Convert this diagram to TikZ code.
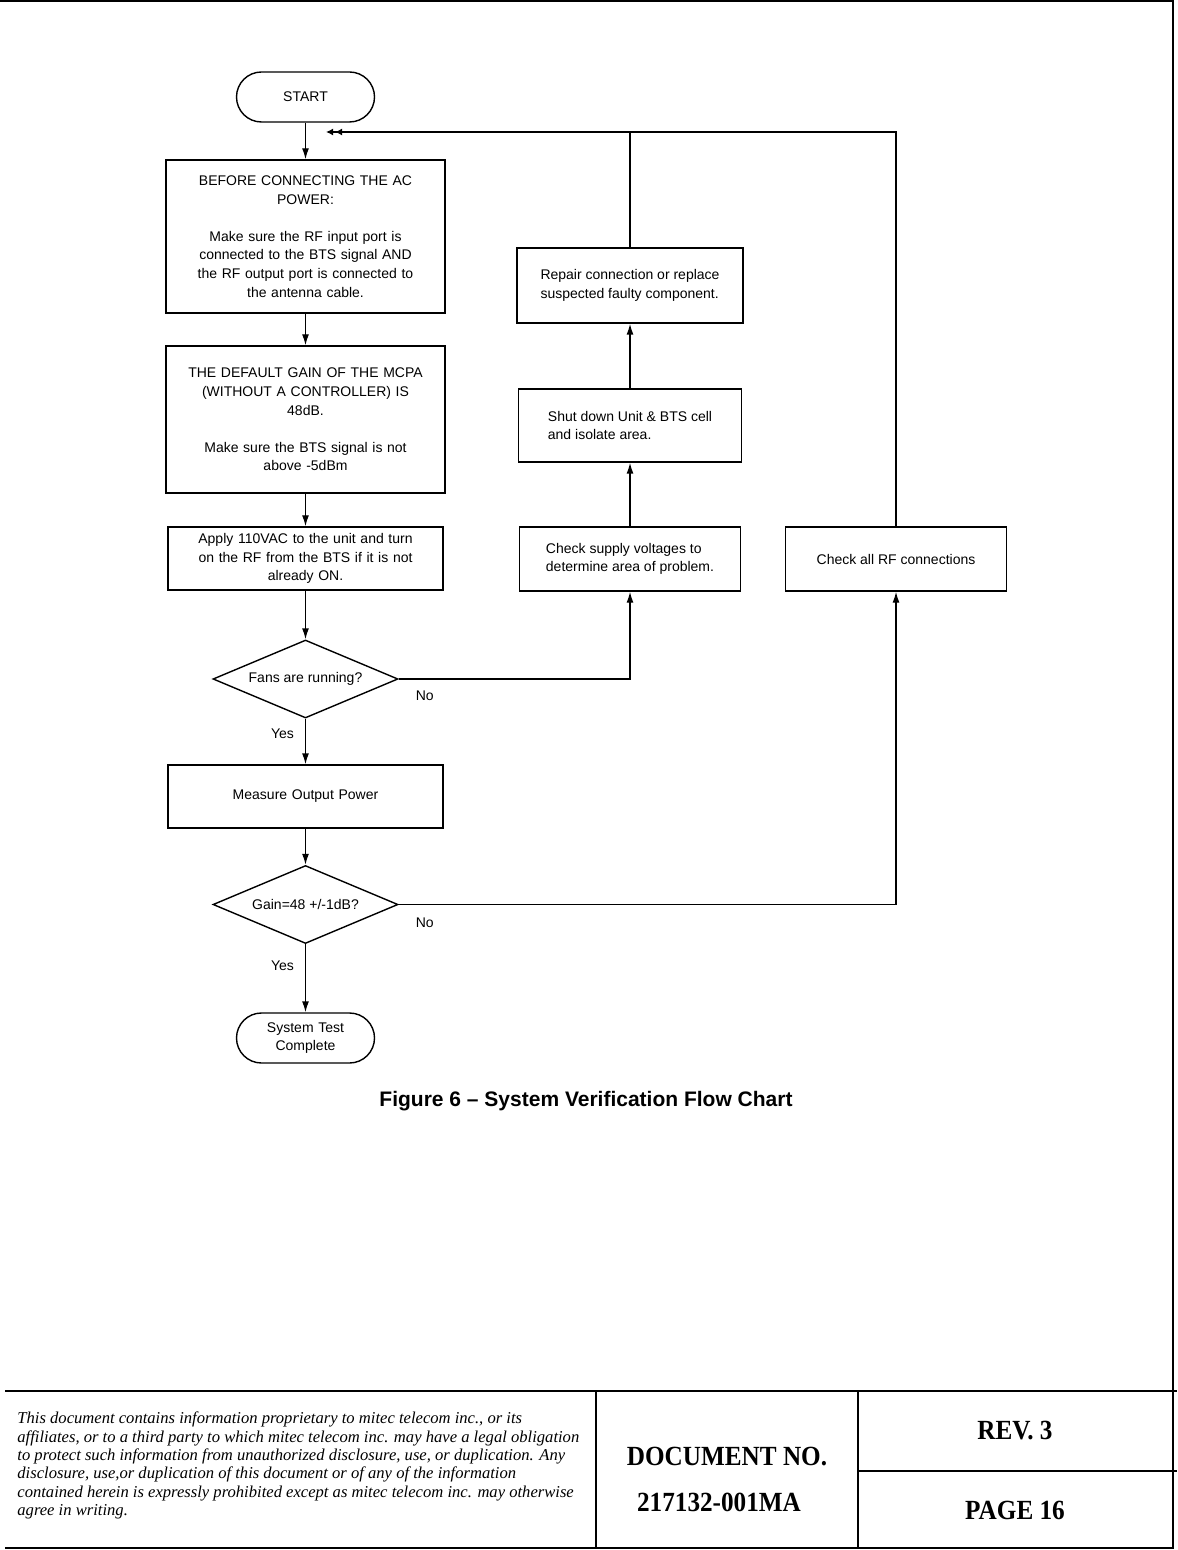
\documentclass[tikz,border=0pt]{standalone}
\usepackage{fontspec}
\setmainfont{Liberation Serif}
\newfontfamily\diagfont{Liberation Sans}
\usepackage{tikz}
\usetikzlibrary{shapes.geometric,arrows.meta}
\tikzstyle{caja}=[draw, line width=0.7pt, text centered, inner sep=0pt,
  font=\diagfont\fontsize{7}{9.3}\selectfont]
\tikzstyle{paso}=[caja, text width=139.5pt, minimum height=31.5pt]
\tikzstyle{tarea}=[caja, align=left, minimum width=111pt, minimum height=32pt]
\tikzstyle{terminal}=[caja, rounded corners=12.5pt, text width=69pt,
  minimum height=25pt]
\tikzstyle{decision}=[caja, diamond, aspect=2.37, minimum width=92.5pt,
  minimum height=39pt]
\tikzstyle{etiqueta}=[font=\diagfont\fontsize{7}{9}\selectfont]
\tikzstyle{line}=[draw, line width=0.7pt, -{Latex[length=5.5pt,width=3.5pt]}]
\tikzstyle{lazo}=[draw, line width=0.7pt]
\tikzstyle{retorno}=[draw, line width=0.7pt,
  -{Latex[length=3.5pt,width=3.5pt,sep=1pt] Latex[length=3.5pt,width=3.5pt]}]
\tikzstyle{marco}=[draw, line width=1pt]
\tikzstyle{pie}=[font=\bfseries\fontsize{12.6}{14}\selectfont, yscale=1.1]
\newcommand{\bloque}[3]{node (#1) [#2] {#3}}
\begin{document}
\begin{tikzpicture}[x=0.5pt,y=-0.5pt]
\useasboundingbox (0,0) rectangle (1177,1550);

  % Draw diagram elements
\path (305.5,97) \bloque{ini}{terminal}{START};
\path (305.5,236.5) \bloque{b1}{paso, minimum height=76.5pt}{BEFORE CONNECTING THE AC\\POWER:\\[9.3pt]Make sure the RF input port is\\connected to the BTS signal AND\\the RF output port is connected to\\the antenna cable.};
\path (305.5,419.5) \bloque{b2}{paso, minimum height=73.5pt}{THE DEFAULT GAIN OF THE MCPA\\(WITHOUT A CONTROLLER) IS\\48dB.\\[9.3pt]Make sure the BTS signal is not\\above -5dBm};
\path (305.5,558.5) \bloque{b3}{paso, text width=137.5pt}{Apply 110VAC to the unit and turn\\on the RF from the BTS if it is not\\already ON.};
\path (305.5,679) \bloque{d1}{decision}{Fans are running?};
\path (305.5,796.5) \bloque{b4}{paso, text width=137.5pt}{Measure Output Power};
\path (305.5,904.5) \bloque{d2}{decision}{Gain=48 +/-1dB?};
\path (305.5,1038) \bloque{fin}{terminal}{System Test\\Complete};

\path (630,285.5) \bloque{rep}{tarea, minimum width=113pt, minimum height=37.5pt}{Repair connection or replace\\suspected faulty component.};
\path (630,425.5) \bloque{shut}{tarea, minimum width=111.5pt, minimum height=36.5pt}{Shut down Unit \& BTS cell\\and isolate area.};
\path (630,559) \bloque{chk}{tarea, minimum width=110.5pt}{Check supply voltages to\\determine area of problem.};
\path (896,559) \bloque{rf}{tarea, minimum width=110.5pt}{Check all RF connections};

\coordinate (ret) at (326,132);

  % Draw arrows between elements
\path [line] (ini.south) -- (b1.north);
\path [line] (b1.south) -- (b2.north);
\path [line] (b2.south) -- (b3.north);
\path [line] (b3.south) -- (d1.north);
\path [line] (d1.south) -- (b4.north);
\path [line] (b4.south) -- (d2.north);
\path [line] (d2.south) -- (fin.north);
\path [line] (d1.east) -| (chk.south);
\path [line] (d2.east) -| (rf.south);
\path [line] (chk.north) -- (shut.south);
\path [line] (shut.north) -- (rep.south);
\path [lazo] (rep.north) -- (rep.north |- ret);
\path [retorno] (rf.north) |- (ret);

\path (d1.east)+(26,17) node (no1)[etiqueta] {No};
\path (d1.south)+(-23,15) node (si1)[etiqueta] {Yes};
\path (d2.east)+(26,18) node (no2)[etiqueta] {No};
\path (d2.south)+(-23,22) node (si2)[etiqueta] {Yes};

\path (586,1101) node (fig)[font=\diagfont\bfseries\fontsize{10.5}{12}\selectfont]
  {Figure 6 – System Verification Flow Chart};

  % Page frame and footer
\path [marco] (0,1) -- (1173,1) -- (1173,1548) -- (5,1548);
\path [marco] (5,1391) -- (1177,1391);
\path [marco] (596,1391) -- (596,1548);
\path [marco] (858,1391) -- (858,1548);
\path [marco] (858,1471) -- (1177,1471);

\path (17,1465.5) node (aviso)[anchor=west, align=left, inner sep=0pt,
  font=\itshape\fontsize{8.3}{9.15}\selectfont]
  {This document contains information proprietary to mitec telecom inc., or its\\
   affiliates, or to a third party to which mitec telecom inc. may have a legal obligation\\
   to protect such information from unauthorized disclosure, use, or duplication. Any\\
   disclosure, use,or duplication of this document or of any of the information\\
   contained herein is expressly prohibited except as mitec telecom inc. may otherwise\\
   agree in writing.};
\path (727,1457) node (docno)[pie] {DOCUMENT NO.};
\path (719,1502) node (num)[pie] {217132-001MA};
\path (1015,1431) node (rev)[pie] {REV. 3};
\path (1015,1510) node (pag)[pie] {PAGE 16};
\end{tikzpicture}
\end{document}
